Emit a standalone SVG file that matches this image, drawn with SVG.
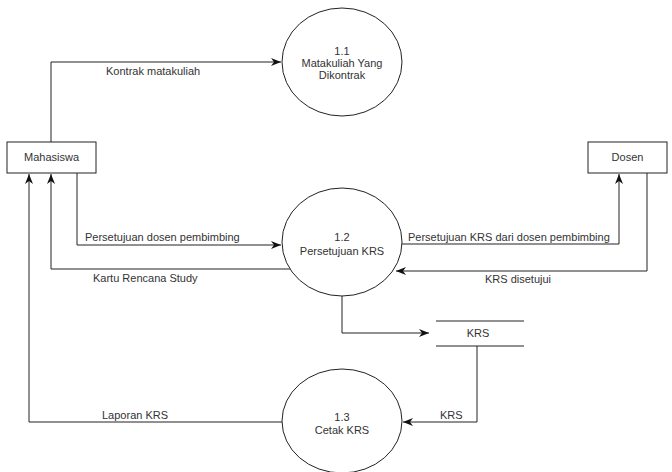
<svg xmlns="http://www.w3.org/2000/svg" width="672" height="472" viewBox="0 0 672 472">
  <style>
    .shape { fill: #ffffff; stroke: #222222; stroke-width: 1; }
    .flow { fill: none; stroke: #222222; stroke-width: 1; }
    text { font-family: "Liberation Sans", Arial, sans-serif; font-size: 11px; fill: #333333; }
    .mid { text-anchor: middle; }
  </style>
  <defs>
    <marker id="arrow" viewBox="0 0 10 8" refX="10" refY="4" markerWidth="10" markerHeight="8" markerUnits="userSpaceOnUse" orient="auto">
      <path d="M0,0 L10,4 L0,8 L3,4 z" fill="#111111"/>
    </marker>
  </defs>

  <!-- connectors -->
  <g id="connectors">
    <path class="flow" d="M51,142 V62 H281" marker-end="url(#arrow)"/>
    <path class="flow" d="M77,173 V245 H281" marker-end="url(#arrow)"/>
    <path class="flow" d="M290,269 H51 V174" marker-end="url(#arrow)"/>
    <path class="flow" d="M402,244 H619 V174" marker-end="url(#arrow)"/>
    <path class="flow" d="M647,173 V271 H396" marker-end="url(#arrow)"/>
    <path class="flow" d="M342,296 V333 H429" marker-end="url(#arrow)"/>
    <path class="flow" d="M477,346 V422 H403" marker-end="url(#arrow)"/>
    <path class="flow" d="M282,422 H29 V174" marker-end="url(#arrow)"/>

    <text x="106" y="75">Kontrak matakuliah</text>
    <text x="85" y="241">Persetujuan dosen pembimbing</text>
    <text x="93" y="282">Kartu Rencana Study</text>
    <text x="408" y="241">Persetujuan KRS dari dosen pembimbing</text>
    <text x="485" y="283">KRS disetujui</text>
    <text x="102" y="419">Laporan KRS</text>
    <text x="440" y="419">KRS</text>
  </g>

  <!-- external entities -->
  <g id="mahasiswa">
    <rect class="shape" x="7" y="142" width="89" height="31"/>
    <text class="mid" x="51.5" y="161">Mahasiswa</text>
  </g>
  <g id="dosen">
    <rect class="shape" x="588" y="142" width="79" height="31"/>
    <text class="mid" x="627.5" y="161">Dosen</text>
  </g>

  <!-- processes -->
  <g id="proses-1-1">
    <ellipse class="shape" cx="342" cy="62" rx="60" ry="54"/>
    <text class="mid" x="342" y="55">1.1</text>
    <text class="mid" x="342" y="67">Matakuliah Yang</text>
    <text class="mid" x="342" y="79">Dikontrak</text>
  </g>
  <g id="proses-1-2">
    <ellipse class="shape" cx="342" cy="242" rx="60" ry="54"/>
    <text class="mid" x="342" y="241">1.2</text>
    <text class="mid" x="342" y="255">Persetujuan KRS</text>
  </g>
  <g id="proses-1-3">
    <ellipse class="shape" cx="342" cy="421" rx="60" ry="52"/>
    <text class="mid" x="342" y="421">1.3</text>
    <text class="mid" x="342" y="434">Cetak KRS</text>
  </g>

  <!-- data store -->
  <g id="store-krs">
    <line class="flow" x1="436" y1="321" x2="524" y2="321"/>
    <line class="flow" x1="436" y1="346" x2="524" y2="346"/>
    <text class="mid" x="478" y="337">KRS</text>
  </g>
</svg>
